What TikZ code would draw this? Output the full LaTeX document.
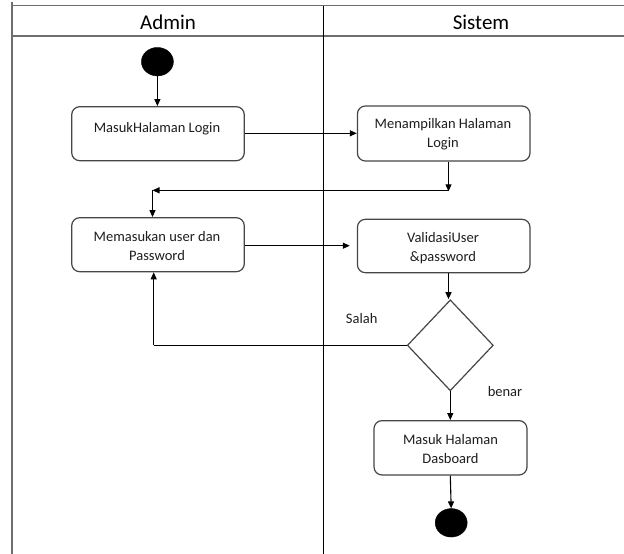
\documentclass[tikz,border=0pt]{standalone}
\usepackage{fontspec}
\setmainfont{Carlito}
\usetikzlibrary{arrows.meta,shapes.geometric}
\definecolor{framegray}{RGB}{110,110,110}
\definecolor{boxgray}{RGB}{70,70,70}
\definecolor{txtgray}{RGB}{30,30,30}
\begin{document}
\begin{tikzpicture}[x=1pt,y=-1pt,
  actbox/.style={draw=boxgray,line width=1.2pt,rounded corners=8pt,inner sep=0pt},
  txt/.style={text=txtgray,font=\fontsize{14.5}{19}\selectfont,align=center,inner sep=0pt},
  hdr/.style={text=black,font=\fontsize{21}{24}\selectfont,inner sep=0pt},
  dot/.style={ellipse,fill=black,draw=black,inner sep=0pt,minimum width=32pt,minimum height=28.5pt},
  decision/.style={diamond,draw=boxgray,line width=1.2pt,inner sep=0pt,aspect=0.945},
  flow/.style={draw=black,line width=1.1pt,-{Triangle[length=7pt,width=6pt]}},
  plain/.style={draw=black,line width=1.1pt}]
\useasboundingbox (0,0) rectangle (624,554);
\fill[white] (0,0) rectangle (624,554);
% frame
\draw[framegray,line width=1.6pt] (12,5.5) -- (624,5.5);
\draw[framegray,line width=1.6pt] (12,36) -- (624,36);
\draw[framegray,line width=2pt] (12,2) -- (12,554);
\draw[black,line width=1pt] (323.3,5.5) -- (323.3,554);
\node[hdr] (hadmin) at (168,22.5) {Admin};
\node[hdr] (hsistem) at (481,22.5) {Sistem};
% nodes
\node[dot] (start) at (157.4,61.7) {};
\node[actbox,minimum width=172.6pt,minimum height=54pt] (b1) at (158,133.7) {};
\node[txt] (t1) at (157,128.5) {MasukHalaman Login};
\node[actbox,minimum width=172.6pt,minimum height=55pt] (b2) at (443.7,133.5) {};
\node[txt] (t2) at (443,134.5) {Menampilkan Halaman\\Login};
\node[actbox,minimum width=172.6pt,minimum height=54pt] (b3) at (158,244.7) {};
\node[txt] (t3) at (157,245.8) {Memasukan user dan\\Password};
\node[actbox,minimum width=172.6pt,minimum height=53.4pt] (b4) at (443.7,246) {};
\node[txt] (t4) at (443,248.5) {ValidasiUser\\\&password};
\node[decision,minimum width=86pt,minimum height=91pt] (dec) at (450.3,345.3) {};
\node[actbox,minimum width=153pt,minimum height=54.3pt] (b5) at (450.5,447.8) {};
\node[txt] (t5) at (450.5,449) {Masuk Halaman\\Dasboard};
\node[dot] (stop) at (451.2,522.8) {};
\node[txt] (lsalah) at (361.7,318.5) {Salah};
\node[txt] (lbenar) at (505,392) {benar};
% junctions
\coordinate (j1) at (448.5,190.3);
\coordinate (j2) at (152.5,190.3);
\coordinate (j3) at (153.7,345.3);
% connectors
\draw[flow] (start.south) -- (b1.north -| start.south);
\draw[flow] (b1.east |- 0,133.3) -- (b2.west |- 0,133.3);
\draw[flow] (b2.south -| j1) -- ([yshift=-1pt]j1);
\draw[flow] (j1) -- (j2);
\draw[flow] (j2) -- (b3.north -| j2);
\draw[flow,shorten >=7pt] (b3.east |- 0,245.7) -- (b4.west |- 0,245.7);
\draw[flow] (b4.south -| j1) -- (dec.north -| j1);
\draw[plain] (dec.west) -- (j3);
\draw[flow] (j3) -- (b3.south -| j3);
\draw[flow] (dec.south) -- (b5.north -| dec.south);
\draw[flow] (b5.south -| dec.south) -- (stop.north);
\end{tikzpicture}
\end{document}
